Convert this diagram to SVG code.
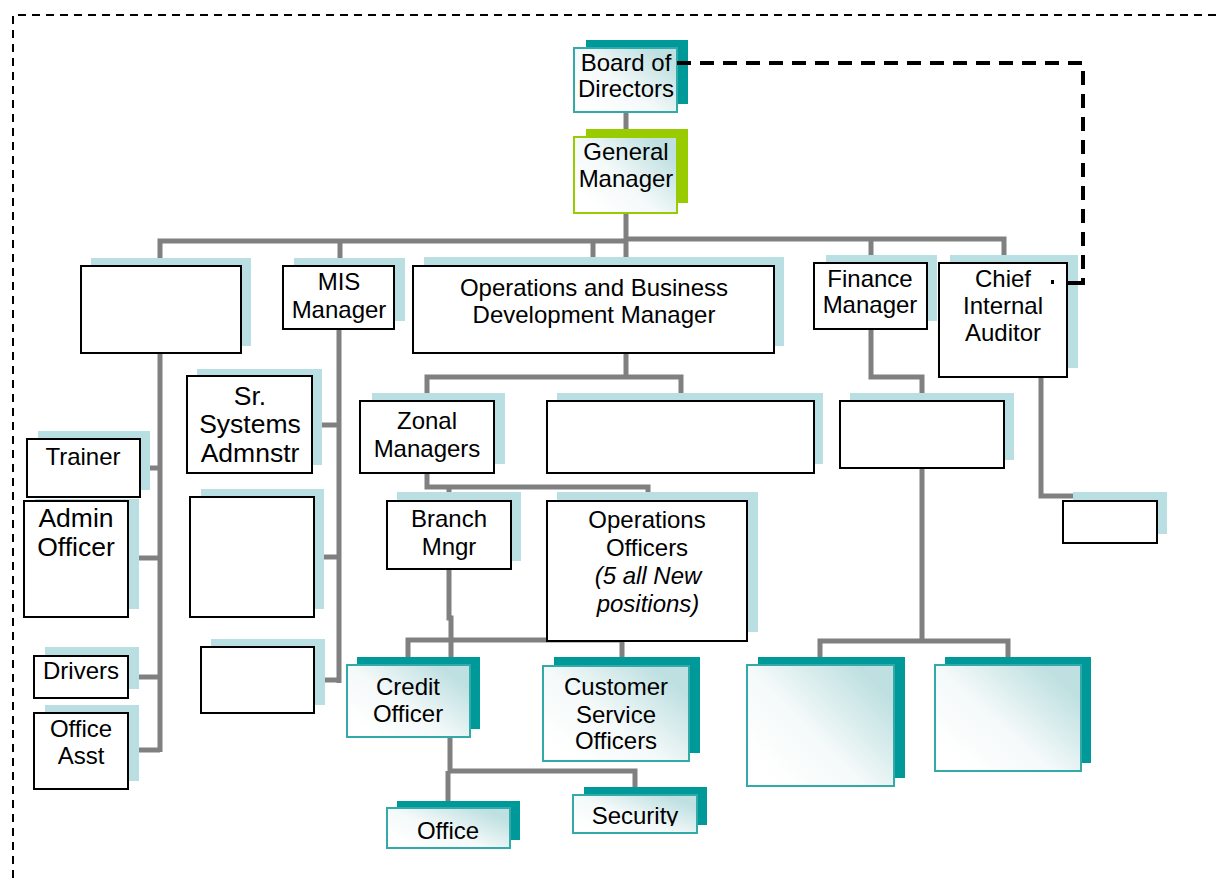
<svg xmlns="http://www.w3.org/2000/svg" width="1219" height="878" viewBox="0 0 1219 878">
<defs>
<linearGradient id="g" x1="0.1" y1="0.85" x2="0.9" y2="0.2">
<stop offset="0" stop-color="#ffffff"/>
<stop offset="0.45" stop-color="#f4f9f9"/>
<stop offset="1" stop-color="#bfe0e1"/>
</linearGradient>
<clipPath id="secClip"><rect x="573" y="795" width="124" height="31"/></clipPath>
</defs>
<style>
.conn{fill:none;stroke:#808080;stroke-width:5}
.dash{fill:none;stroke:#000;stroke-width:4;stroke-dasharray:14 9}
.solid{fill:none;stroke:#000;stroke-width:4}
.border{fill:none;stroke:#000;stroke-width:2;stroke-dasharray:8 6}
.sh{fill:#b9dfe3}
.wb{fill:#fff;stroke:#000;stroke-width:2}
.tsh{fill:#009999}
.tb{fill:url(#g);stroke:#33aaaa;stroke-width:2}
.gsh{fill:#99cc00}
.gb{fill:url(#g);stroke:#99cc00;stroke-width:2}
text{font-family:"Liberation Sans",Arial,sans-serif;font-size:24px;text-anchor:middle;fill:#000}
.big{font-size:26.5px}
.it{font-style:italic}
</style>
<rect width="1219" height="878" fill="#fff"/>
<path class="border" d="M13,878 V15 H1219"/>
<g id="connectors">
<path class="conn" d="M626,113 V137"/>
<path class="conn" d="M626,213 V266"/>
<path class="conn" d="M160,266 V241 H626"/>
<path class="conn" d="M340,241 V266"/>
<path class="conn" d="M593,241 V266"/>
<path class="conn" d="M626,239 H1004 V256"/>
<path class="conn" d="M871,239 V263"/>
<path class="conn" d="M871,329 V377 H922 V401"/>
<path class="conn" d="M922,468 V641"/>
<path class="conn" d="M820,657 V641 H1008 V657"/>
<path class="conn" d="M1041,377 V496 H1073"/>
<path class="conn" d="M339,329 V683"/>
<path class="conn" d="M322,425 H339"/>
<path class="conn" d="M324,557 H339"/>
<path class="conn" d="M325,680 H339"/>
<path class="conn" d="M160,353 V752"/>
<path class="conn" d="M150,468 H160"/>
<path class="conn" d="M139,558 H160"/>
<path class="conn" d="M139,677 H160"/>
<path class="conn" d="M139,750 H160"/>
<path class="conn" d="M626,353 V377"/>
<path class="conn" d="M427,401 V377 H681 V401"/>
<path class="conn" d="M427,473 V487 H648 V500"/>
<path class="conn" d="M449,487 V501"/>
<path class="conn" d="M449,569 V618 H451 V657"/>
<path class="conn" d="M408,657 V640 H622 V657"/>
<path class="conn" d="M450,737 V771 H635 V787"/>
<path class="conn" d="M448,771 V801"/>
</g>
<g id="board">
<rect class="tsh" x="586" y="40" width="102" height="64"/>
<rect class="tb" x="574" y="48" width="103" height="64"/>
<text x="626" y="71">Board of</text>
<text x="626" y="97">Directors</text>
</g>
<g id="gm">
<rect class="gsh" x="586" y="129" width="102" height="74"/>
<rect class="gb" x="574" y="137" width="103" height="76"/>
<text x="626" y="160">General</text>
<text x="626" y="187">Manager</text>
</g>
<g id="left-blank">
<rect class="sh" x="91" y="258" width="160" height="88"/>
<rect class="wb" x="81" y="266" width="160" height="87"/>
</g>
<g id="mis">
<rect class="sh" x="294" y="258" width="111" height="63"/>
<rect class="wb" x="283" y="266" width="111" height="63"/>
<text x="339" y="290">MIS</text>
<text x="339" y="318">Manager</text>
</g>
<g id="obdm">
<rect class="sh" x="424" y="257" width="360" height="89"/>
<rect class="wb" x="413" y="266" width="361" height="87"/>
<text x="594" y="296">Operations and Business</text>
<text x="594" y="323">Development Manager</text>
</g>
<g id="finance">
<rect class="sh" x="826" y="255" width="111" height="66"/>
<rect class="wb" x="814" y="263" width="113" height="66"/>
<text x="870" y="287">Finance</text>
<text x="870" y="313">Manager</text>
</g>
<g id="chief">
<rect class="sh" x="950" y="255" width="128" height="113"/>
<rect class="wb" x="939" y="263" width="128" height="114"/>
<text x="1003" y="287">Chief</text>
<text x="1003" y="314">Internal</text>
<text x="1003" y="341">Auditor</text>
</g>
<g id="trainer">
<rect class="sh" x="38" y="431" width="112" height="59"/>
<rect class="wb" x="27" y="439" width="113" height="58"/>
<text x="83" y="465">Trainer</text>
</g>
<g id="admin">
<rect class="sh" x="35" y="499" width="104" height="110"/>
<rect class="wb" x="24" y="501" width="104" height="116"/>
<text class="big" x="76" y="527">Admin</text>
<text class="big" x="76" y="556">Officer</text>
</g>
<g id="drivers">
<rect class="sh" x="45" y="647" width="94" height="42"/>
<rect class="wb" x="34" y="656" width="94" height="42"/>
<text x="81" y="679">Drivers</text>
</g>
<g id="office-asst">
<rect class="sh" x="45" y="705" width="94" height="76"/>
<rect class="wb" x="34" y="713" width="94" height="76"/>
<text x="81" y="737">Office</text>
<text x="81" y="764">Asst</text>
</g>
<g id="sysadmin">
<rect class="sh" x="197" y="369" width="125" height="96"/>
<rect class="wb" x="187" y="376" width="125" height="97"/>
<text class="big" x="250" y="405">Sr.</text>
<text class="big" x="250" y="433">Systems</text>
<text class="big" x="250" y="462">Admnstr</text>
</g>
<g id="mis-blank1">
<rect class="sh" x="201" y="489" width="123" height="120"/>
<rect class="wb" x="190" y="497" width="124" height="120"/>
</g>
<g id="mis-blank2">
<rect class="sh" x="211" y="639" width="114" height="66"/>
<rect class="wb" x="201" y="647" width="113" height="66"/>
</g>
<g id="zonal">
<rect class="sh" x="372" y="393" width="133" height="71"/>
<rect class="wb" x="360" y="401" width="134" height="72"/>
<text x="427" y="429">Zonal</text>
<text x="427" y="457">Managers</text>
</g>
<g id="ops-blank">
<rect class="sh" x="557" y="393" width="266" height="71"/>
<rect class="wb" x="547" y="401" width="267" height="72"/>
</g>
<g id="branch">
<rect class="sh" x="397" y="492" width="124" height="69"/>
<rect class="wb" x="387" y="501" width="124" height="68"/>
<text x="449" y="527">Branch</text>
<text x="449" y="555">Mngr</text>
</g>
<g id="ops-officers">
<rect class="sh" x="557" y="492" width="201" height="140"/>
<rect class="wb" x="547" y="501" width="200" height="140"/>
<text x="647" y="528">Operations</text>
<text x="647" y="556">Officers</text>
<text class="it" x="648" y="584">(5 all New</text>
<text class="it" x="648" y="612">positions)</text>
</g>
<g id="fin-blank">
<rect class="sh" x="850" y="393" width="164" height="67"/>
<rect class="wb" x="840" y="401" width="164" height="67"/>
</g>
<g id="audit-blank">
<rect class="sh" x="1073" y="492" width="94" height="42"/>
<rect class="wb" x="1063" y="501" width="94" height="42"/>
</g>
<g id="credit">
<rect class="tsh" x="357" y="657" width="123" height="72"/>
<rect class="tb" x="347" y="665" width="123" height="72"/>
<text x="408" y="695">Credit</text>
<text x="408" y="722">Officer</text>
</g>
<g id="cso">
<rect class="tsh" x="554" y="657" width="146" height="96"/>
<rect class="tb" x="543" y="666" width="146" height="95"/>
<text x="616" y="695">Customer</text>
<text x="616" y="723">Service</text>
<text x="616" y="749">Officers</text>
</g>
<g id="fin-box1">
<rect class="tsh" x="758" y="657" width="147" height="121"/>
<rect class="tb" x="747" y="665" width="147" height="121"/>
</g>
<g id="fin-box2">
<rect class="tsh" x="945" y="657" width="146" height="106"/>
<rect class="tb" x="935" y="665" width="146" height="106"/>
</g>
<g id="office">
<rect class="tsh" x="397" y="801" width="123" height="39"/>
<rect class="tb" x="387" y="808" width="123" height="40"/>
<text x="448" y="839">Office</text>
</g>
<g id="security">
<rect class="tsh" x="584" y="787" width="123" height="38"/>
<rect class="tb" x="573" y="795" width="124" height="38"/>
<text x="635" y="824" clip-path="url(#secClip)">Security</text>
</g>
<g id="dashed-connector">
<path class="dash" d="M677,63 H1083 V283"/>
<path class="solid" d="M1085,283 H1067"/>
<rect x="1051" y="280" width="3" height="4" fill="#000"/>
</g>
</svg>
